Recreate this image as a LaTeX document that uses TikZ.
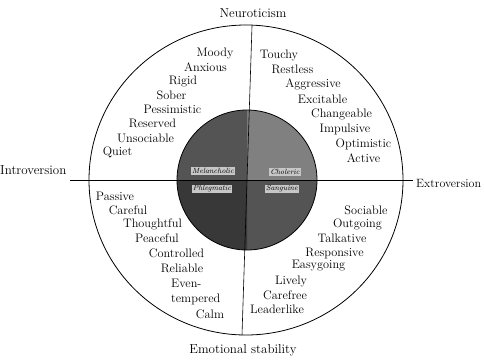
\documentclass[tikz,border=0pt]{standalone}
\usepackage{xcolor}
\usepackage{tikz}
\definecolor{stipdark}{gray}{0.22}
\definecolor{stipmid}{gray}{0.33}
\definecolor{stiplight}{gray}{0.5}
\definecolor{bandgray}{gray}{0.78}
\tikzset{
    trait/.style={inner sep=0pt, font=\fontsize{12.3}{14}\selectfont},
    pole/.style={inner sep=0pt, font=\fontsize{13}{15}\selectfont},
    temper/.style={inner sep=1pt, fill=bandgray, font=\fontsize{7.5}{8}\selectfont\itshape}
}

\begin{document}
\begin{tikzpicture}[x=1pt, y=-1pt]
    \useasboundingbox (0,0) rectangle (484,362);
    \coordinate (top) at (252,26);
    \coordinate (bot) at (242,335);
    \coordinate (west) at (70,180);
    \coordinate (east) at (413,180);
    \coordinate (mid) at (247,180);
    \draw [black, thick] (246,180) ellipse (157 and 155);
    % inner circle, one shade per quadrant
    \fill [stiplight] (mid) -- (247,110) arc (-90:0:70) -- cycle;
    \fill [stipmid] (mid) -- (317,180) arc (0:90:70) -- cycle;
    \fill [stipdark] (mid) -- (247,250) arc (90:180:70) -- cycle;
    \fill [stipmid] (mid) -- (177,180) arc (180:270:70) -- cycle;
    \draw [black, thick] (mid) circle (70);
    \draw [black, semithick] (top) -- (bot);
    \draw [black, semithick] (west) -- (east);
    \node [temper] (melan) at (213,171) {Melancholic};
    \node [temper] (chol) at (285,172) {Choleric};
    \node [temper] (phleg) at (212,189) {Phlegmatic};
    \node [temper] (sang) at (282,189) {Sanguine};
    \node [pole] (neuro) at (253,13) {Neuroticism};
    \node [pole] (emo) at (243,350) {Emotional stability};
    \node [pole, anchor=west] (intro) at (0,170) {Introversion};
    \node [pole, anchor=west, font=\fontsize{12}{14}\selectfont] (extro) at (416,183) {Extroversion};
    \node [trait] (moody) at (215,53) {Moody};
    \node [trait] (anxious) at (205.5,67) {Anxious};
    \node [trait] (rigid) at (183,81) {Rigid};
    \node [trait] (sober) at (171.5,95) {Sober};
    \node [trait] (pessim) at (172.5,109) {Pessimistic};
    \node [trait] (reserved) at (152.5,123) {Reserved};
    \node [trait] (unsoc) at (145.5,138) {Unsociable};
    \node [trait] (quiet) at (117.5,152) {Quiet};
    \node [trait] (touchy) at (279,55) {Touchy};
    \node [trait] (restless) at (292.5,69) {Restless};
    \node [trait] (aggress) at (313,84) {Aggressive};
    \node [trait] (excit) at (322.5,99) {Excitable};
    \node [trait] (change) at (341.5,114) {Changeable};
    \node [trait] (impuls) at (345,129) {Impulsive};
    \node [trait] (optim) at (363.5,144) {Optimistic};
    \node [trait] (active) at (363.5,158) {Active};
    \node [trait] (passive) at (115,196) {Passive};
    \node [trait] (careful) at (128,210) {Careful};
    \node [trait] (thought) at (152.5,224) {Thoughtful};
    \node [trait] (peace) at (157,238) {Peaceful};
    \node [trait] (control) at (176.5,253) {Controlled};
    \node [trait] (reliable) at (182,268) {Reliable};
    \node [trait, anchor=west] (even) at (171,283) {Even-};
    \node [trait, anchor=west] (tempered) at (171,299) {tempered};
    \node [trait] (calm) at (210,314) {Calm};
    \node [trait] (sociable) at (366,210) {Sociable};
    \node [trait] (outgoing) at (357.5,224) {Outgoing};
    \node [trait] (talk) at (342,238) {Talkative};
    \node [trait] (respons) at (334.5,253) {Responsive};
    \node [trait] (easy) at (318.5,266) {Easygoing};
    \node [trait] (lively) at (291,281) {Lively};
    \node [trait] (carefree) at (285,295) {Carefree};
    \node [trait] (leader) at (277,309) {Leaderlike};
\end{tikzpicture}
\end{document}
